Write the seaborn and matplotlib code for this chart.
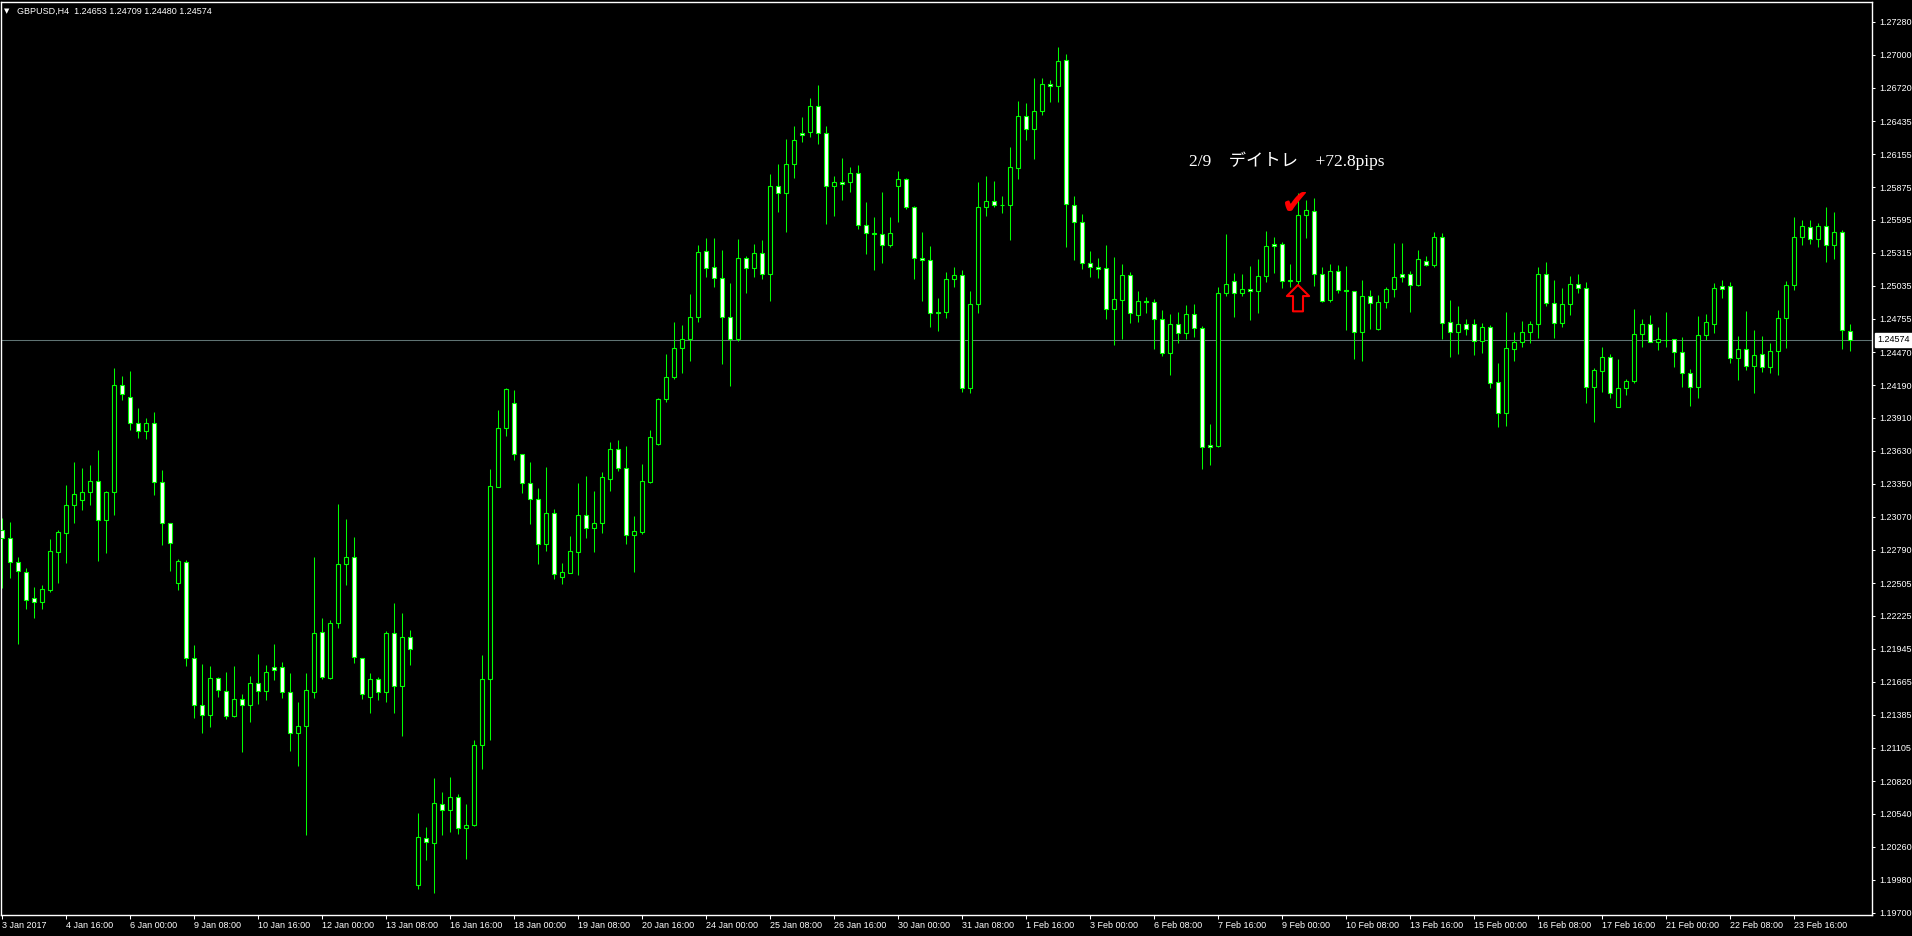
import numpy as np
import pandas as pd
import matplotlib
matplotlib.use("Agg")
import matplotlib.pyplot as plt
import seaborn as sns

# ---------------- data (GBPUSD H4) ----------------
opens = [1.22956, 1.22888, 1.22684, 1.22599, 1.22378, 1.22344, 1.22446, 1.22769, 1.22931, 1.23169,
         1.23212, 1.23280, 1.23373, 1.23042, 1.23280, 1.24191, 1.24088, 1.23867, 1.23799, 1.23867,
         1.23365, 1.23016, 1.22505, 1.22684, 1.21867, 1.21467, 1.21382, 1.21697, 1.21586, 1.21373,
         1.21518, 1.21467, 1.21654, 1.21586, 1.21790, 1.21790, 1.21578, 1.21229, 1.21288, 1.21578,
         1.22088, 1.21697, 1.22165, 1.22667, 1.22727, 1.21867, 1.21535, 1.21688, 1.21578, 1.22080,
         1.21629, 1.22046, 1.19935, 1.20335, 1.20292, 1.20624, 1.20573, 1.20684, 1.20420, 1.20446,
         1.21127, 1.21688, 1.23322, 1.23825, 1.24037, 1.23603, 1.23356, 1.23220, 1.22837, 1.23101,
         1.22556, 1.22590, 1.22769, 1.23084, 1.22973, 1.23016, 1.23390, 1.23646, 1.23484, 1.22914,
         1.22939, 1.23365, 1.23688, 1.24071, 1.24259, 1.24505, 1.24582, 1.24769, 1.25331, 1.25195,
         1.25101, 1.24769, 1.24582, 1.25271, 1.25186, 1.25314, 1.25135, 1.25884, 1.25825, 1.26071,
         1.26335, 1.26344, 1.26565, 1.26335, 1.25884, 1.25918, 1.25918, 1.25995, 1.25552, 1.25484,
         1.25476, 1.25382, 1.25884, 1.25944, 1.25705, 1.25271, 1.25254, 1.24812, 1.24812, 1.25093,
         1.25127, 1.24165, 1.24880, 1.25705, 1.25756, 1.25722, 1.25722, 1.26037, 1.26480, 1.26369,
         1.26523, 1.26752, 1.26735, 1.26957, 1.25722, 1.25578, 1.25229, 1.25195, 1.25186, 1.24837,
         1.24914, 1.25127, 1.24786, 1.24905, 1.24897, 1.24752, 1.24463, 1.24710, 1.24633, 1.24795,
         1.24676, 1.23680, 1.23671, 1.24974, 1.25076, 1.24974, 1.25008, 1.24991, 1.25118, 1.25391,
         1.25391, 1.25076, 1.25076, 1.25637, 1.25671, 1.25135, 1.24914, 1.25161, 1.24999, 1.24991,
         1.24642, 1.24948, 1.24667, 1.24897, 1.25008, 1.25135, 1.25135, 1.25042, 1.25246, 1.25212,
         1.25450, 1.24727, 1.24642, 1.24710, 1.24710, 1.24565, 1.24684, 1.24216, 1.23952, 1.24497,
         1.24556, 1.24642, 1.24710, 1.25135, 1.24888, 1.24718, 1.24880, 1.25050, 1.25016, 1.24173,
         1.24310, 1.24429, 1.24003, 1.24165, 1.24225, 1.24625, 1.24710, 1.24556, 1.24573, 1.24582,
         1.24471, 1.24293, 1.24173, 1.24616, 1.24710, 1.25033, 1.25033, 1.24420, 1.24497, 1.24352,
         1.24454, 1.24344, 1.24480, 1.24761, 1.25042, 1.25450, 1.25535, 1.25433, 1.25544, 1.25382,
         1.25493, 1.24653]
highs = [1.23059, 1.23025, 1.22727, 1.22633, 1.22471, 1.22488, 1.22880, 1.22956, 1.23339, 1.23535,
         1.23484, 1.23510, 1.23637, 1.23288, 1.24335, 1.24267, 1.24310, 1.23995, 1.23910, 1.23961,
         1.23467, 1.23016, 1.22710, 1.22701, 1.21978, 1.21816, 1.21799, 1.21705, 1.21748, 1.21799,
         1.21561, 1.21714, 1.21901, 1.21807, 1.21986, 1.21833, 1.21739, 1.21492, 1.21739, 1.22727,
         1.22207, 1.22190, 1.23178, 1.23050, 1.22897, 1.21867, 1.21739, 1.21705, 1.22097, 1.22335,
         1.22250, 1.22105, 1.20548, 1.20429, 1.20846, 1.20727, 1.20854, 1.20710, 1.20624, 1.21169,
         1.21892, 1.23476, 1.23978, 1.24165, 1.24148, 1.23603, 1.23535, 1.23314, 1.23493, 1.23135,
         1.22676, 1.22905, 1.23356, 1.23416, 1.23288, 1.23450, 1.23705, 1.23722, 1.23671, 1.23076,
         1.23518, 1.23807, 1.24080, 1.24454, 1.24727, 1.24701, 1.24965, 1.25382, 1.25442, 1.25442,
         1.25339, 1.25059, 1.25433, 1.25288, 1.25391, 1.25425, 1.25986, 1.26071, 1.26284, 1.26395,
         1.26471, 1.26633, 1.26744, 1.26395, 1.25969, 1.26122, 1.26046, 1.26063, 1.25748, 1.25620,
         1.25833, 1.25620, 1.26012, 1.25952, 1.25714, 1.25493, 1.25374, 1.24931, 1.25152, 1.25195,
         1.25169, 1.24991, 1.25918, 1.25969, 1.25927, 1.25799, 1.26216, 1.26608, 1.26591, 1.26803,
         1.26803, 1.26786, 1.27067, 1.27008, 1.25799, 1.25646, 1.25331, 1.25271, 1.25382, 1.25280,
         1.25220, 1.25152, 1.24991, 1.24939, 1.24922, 1.24829, 1.24795, 1.24812, 1.24871, 1.24880,
         1.24693, 1.23859, 1.25025, 1.25476, 1.25144, 1.25135, 1.25203, 1.25263, 1.25501, 1.25450,
         1.25408, 1.25220, 1.25825, 1.25765, 1.25782, 1.25195, 1.25220, 1.25212, 1.25203, 1.24991,
         1.25084, 1.24999, 1.24956, 1.25025, 1.25399, 1.25399, 1.25161, 1.25339, 1.25288, 1.25493,
         1.25484, 1.24914, 1.24863, 1.24752, 1.24752, 1.24718, 1.24701, 1.24378, 1.24812, 1.24642,
         1.24735, 1.24735, 1.25195, 1.25237, 1.25084, 1.25016, 1.25118, 1.25135, 1.25067, 1.24335,
         1.24514, 1.24454, 1.24412, 1.24242, 1.24837, 1.24752, 1.24786, 1.24684, 1.24812, 1.24582,
         1.24599, 1.24327, 1.24778, 1.24795, 1.25059, 1.25084, 1.25067, 1.24608, 1.24820, 1.24659,
         1.24608, 1.24548, 1.24829, 1.25076, 1.25620, 1.25595, 1.25595, 1.25569, 1.25705, 1.25663,
         1.25510, 1.24709]
lows = [1.22463, 1.22548, 1.21986, 1.22284, 1.22207, 1.22284, 1.22429, 1.22505, 1.22676, 1.23016,
        1.23127, 1.23169, 1.22693, 1.22761, 1.23084, 1.24063, 1.23807, 1.23739, 1.23731, 1.23254,
        1.22829, 1.22607, 1.22446, 1.21799, 1.21356, 1.21229, 1.21280, 1.21535, 1.21348, 1.21365,
        1.21067, 1.21322, 1.21476, 1.21510, 1.21680, 1.21527, 1.21075, 1.20948, 1.20360, 1.21527,
        1.21688, 1.21688, 1.22122, 1.22488, 1.21824, 1.21518, 1.21399, 1.21510, 1.21492, 1.21399,
        1.21203, 1.21807, 1.19901, 1.20148, 1.19867, 1.20360, 1.20386, 1.20369, 1.20156, 1.20437,
        1.20922, 1.21169, 1.23322, 1.23756, 1.23552, 1.23271, 1.23007, 1.22667, 1.22778, 1.22539,
        1.22497, 1.22590, 1.22573, 1.22888, 1.22769, 1.22931, 1.23288, 1.23459, 1.22837, 1.22599,
        1.22922, 1.23356, 1.23680, 1.24046, 1.24242, 1.24293, 1.24395, 1.24727, 1.25110, 1.25025,
        1.24369, 1.24182, 1.24565, 1.24974, 1.25110, 1.25093, 1.24905, 1.25663, 1.25493, 1.25952,
        1.26259, 1.26301, 1.26242, 1.25561, 1.25629, 1.25765, 1.25833, 1.25518, 1.25305, 1.25169,
        1.25229, 1.25365, 1.25578, 1.25688, 1.25093, 1.24905, 1.24684, 1.24650, 1.24761, 1.25025,
        1.24131, 1.24122, 1.24803, 1.25629, 1.25705, 1.25654, 1.25425, 1.25944, 1.26276, 1.26114,
        1.26488, 1.26599, 1.26599, 1.25365, 1.25254, 1.25178, 1.25110, 1.25101, 1.24752, 1.24531,
        1.24582, 1.24718, 1.24727, 1.24803, 1.24497, 1.24437, 1.24276, 1.24548, 1.24582, 1.24599,
        1.23476, 1.23510, 1.23663, 1.24948, 1.24769, 1.24948, 1.24744, 1.24803, 1.25067, 1.25144,
        1.25016, 1.25025, 1.25042, 1.25442, 1.25033, 1.24897, 1.24897, 1.24974, 1.24659, 1.24412,
        1.24395, 1.24667, 1.24659, 1.24846, 1.24939, 1.25067, 1.24812, 1.25033, 1.25203, 1.25195,
        1.24582, 1.24429, 1.24454, 1.24616, 1.24446, 1.24463, 1.24165, 1.23833, 1.23842, 1.24395,
        1.24514, 1.24548, 1.24591, 1.24863, 1.24591, 1.24684, 1.24786, 1.24974, 1.24037, 1.23876,
        1.24131, 1.24080, 1.24003, 1.24105, 1.24208, 1.24514, 1.24556, 1.24488, 1.24514, 1.24344,
        1.24173, 1.24012, 1.24080, 1.24573, 1.24633, 1.24931, 1.24378, 1.24233, 1.24318, 1.24122,
        1.24301, 1.24293, 1.24276, 1.24505, 1.24999, 1.25382, 1.25391, 1.25365, 1.25237, 1.25263,
        1.24497, 1.24480]
closes = [1.22888, 1.22684, 1.22607, 1.22361, 1.22344, 1.22454, 1.22778, 1.22939, 1.23169, 1.23263,
          1.23280, 1.23373, 1.23042, 1.23280, 1.24191, 1.24114, 1.23867, 1.23799, 1.23867, 1.23365,
          1.23016, 1.22846, 1.22693, 1.21867, 1.21467, 1.21382, 1.21697, 1.21595, 1.21373, 1.21518,
          1.21467, 1.21654, 1.21586, 1.21748, 1.21765, 1.21578, 1.21229, 1.21288, 1.21595, 1.22080,
          1.21705, 1.22165, 1.22667, 1.22727, 1.21876, 1.21561, 1.21688, 1.21578, 1.22080, 1.21629,
          1.22046, 1.21944, 1.20344, 1.20301, 1.20633, 1.20573, 1.20684, 1.20420, 1.20446, 1.21127,
          1.21688, 1.23331, 1.23825, 1.24156, 1.23603, 1.23356, 1.23220, 1.22837, 1.23101, 1.22582,
          1.22599, 1.22778, 1.23084, 1.22973, 1.23016, 1.23408, 1.23646, 1.23484, 1.22914, 1.22948,
          1.23373, 1.23748, 1.24071, 1.24259, 1.24505, 1.24582, 1.24769, 1.25322, 1.25186, 1.25101,
          1.24769, 1.24582, 1.25271, 1.25186, 1.25314, 1.25135, 1.25884, 1.25825, 1.26071, 1.26276,
          1.26318, 1.26565, 1.26335, 1.25884, 1.25918, 1.25901, 1.25995, 1.25552, 1.25484, 1.25476,
          1.25382, 1.25484, 1.25944, 1.25705, 1.25271, 1.25254, 1.24803, 1.24803, 1.25093, 1.25127,
          1.24165, 1.24880, 1.25705, 1.25756, 1.25722, 1.25720, 1.26046, 1.26480, 1.26369, 1.26523,
          1.26752, 1.26735, 1.26948, 1.25731, 1.25578, 1.25229, 1.25195, 1.25178, 1.24837, 1.24922,
          1.25127, 1.24803, 1.24905, 1.24897, 1.24752, 1.24463, 1.24710, 1.24633, 1.24795, 1.24676,
          1.23663, 1.23663, 1.24974, 1.25050, 1.24974, 1.25008, 1.24991, 1.25118, 1.25374, 1.25374,
          1.25076, 1.25084, 1.25637, 1.25680, 1.25135, 1.24905, 1.25161, 1.24999, 1.24991, 1.24642,
          1.24948, 1.24888, 1.24897, 1.25008, 1.25110, 1.25110, 1.25042, 1.25263, 1.25212, 1.25450,
          1.24718, 1.24642, 1.24710, 1.24667, 1.24565, 1.24684, 1.24208, 1.23952, 1.24505, 1.24556,
          1.24642, 1.24710, 1.25135, 1.24888, 1.24718, 1.24880, 1.25050, 1.25016, 1.24173, 1.24318,
          1.24429, 1.24122, 1.24165, 1.24225, 1.24625, 1.24710, 1.24556, 1.24582, 1.24575, 1.24471,
          1.24293, 1.24173, 1.24616, 1.24727, 1.25016, 1.25008, 1.24420, 1.24497, 1.24352, 1.24446,
          1.24344, 1.24480, 1.24761, 1.25042, 1.25450, 1.25544, 1.25433, 1.25544, 1.25382, 1.25493,
          1.24659, 1.24574]

date_labels = ["3 Jan 2017", "4 Jan 16:00", "6 Jan 00:00", "9 Jan 08:00", "10 Jan 16:00",
               "12 Jan 00:00", "13 Jan 08:00", "16 Jan 16:00", "18 Jan 00:00", "19 Jan 08:00",
               "20 Jan 16:00", "24 Jan 00:00", "25 Jan 08:00", "26 Jan 16:00", "30 Jan 00:00",
               "31 Jan 08:00", "1 Feb 16:00", "3 Feb 00:00", "6 Feb 08:00", "7 Feb 16:00",
               "9 Feb 00:00", "10 Feb 08:00", "13 Feb 16:00", "15 Feb 00:00", "16 Feb 08:00",
               "17 Feb 16:00", "21 Feb 00:00", "22 Feb 08:00", "23 Feb 16:00"]
bars_per_label = 8

ytick_values = [1.27280, 1.27000, 1.26720, 1.26435, 1.26155, 1.25875, 1.25595, 1.25315, 1.25035,
                1.24755, 1.24470, 1.24190, 1.23910, 1.23630, 1.23350, 1.23070, 1.22790, 1.22505,
                1.22225, 1.21945, 1.21665, 1.21385, 1.21105, 1.20820, 1.20540, 1.20260, 1.19980,
                1.19700]
ytick_labels = ["%.5f" % v for v in ytick_values]

title_text = "GBPUSD,H4  1.24653 1.24709 1.24480 1.24574"
last_price = 1.24574
note_text = "2/9\u3000デイトレ\u3000+72.8pips"
entry_bar = 162

# ---------------- style ----------------
sns.set_theme(style="dark", rc={"axes.facecolor": "black", "figure.facecolor": "black",
                                "axes.grid": False, "axes.edgecolor": "white"})
plt.rcParams['font.family'] = ['Liberation Sans', 'DejaVu Sans']

df = pd.DataFrame({"o": opens, "h": highs, "l": lows, "c": closes})
df["x"] = np.arange(len(df))
df["bull"] = df["c"] > df["o"]
df["bottom"] = df[["o", "c"]].min(axis=1)
df["height"] = (df["c"] - df["o"]).abs()

W, H = 1912, 936
fig = plt.figure(figsize=(W / 100, H / 100), dpi=100)
fig.patch.set_facecolor("black")
ax = fig.add_axes([1 / W, 21 / H, 1871 / W, 913 / H])
ax.set_facecolor("black")

green = "#00ff00"
ax.axhline(last_price, color="#5f7373", lw=0.75, zorder=1)
ax.vlines(df["x"], df["l"], df["h"], color=green, linewidth=0.75, zorder=2)
ax.bar(df["x"], df["height"], bottom=df["bottom"], width=0.5,
       color=np.where(df["bull"], "black", "white"), edgecolor=green,
       linewidth=0.8, zorder=3)

ax.set_xlim(-0.125, 233.75)
ax.set_ylim(1.19680, 1.27450)

# right price axis
ax.yaxis.tick_right()
ax.set_yticks(ytick_values, ytick_labels)
ax.tick_params(axis="y", which="both", colors="white", length=2.5, width=0.75,
               pad=2.5, labelsize=6.5, left=False, right=True, direction="out")
# bottom time axis
ax.set_xticks(np.arange(len(date_labels)) * bars_per_label, date_labels)
ax.tick_params(axis="x", colors="white", length=3, width=0.75, pad=1.5,
               labelsize=6.5, bottom=True, direction="out")
for lbl in ax.get_xticklabels():
    lbl.set_horizontalalignment("left")

for sp in ax.spines.values():
    sp.set_color("white")
    sp.set_linewidth(1.0)
    sp.set_visible(True)

# current price box
ax.annotate("%.5f" % last_price, xy=(1, last_price), xycoords=("axes fraction", "data"),
            xytext=(3.5, 0), textcoords="offset points", ha="left", va="center",
            fontsize=6.5, color="black", annotation_clip=False, zorder=10,
            bbox=dict(boxstyle="square,pad=0.25", fc="white", ec="white"))

# title
fig.text(4 / W, 1 - 11.5 / H, "\u25bc", color="white", fontsize=5, va="center",
         ha="left", family=["DejaVu Sans"])
fig.text(17 / W, 1 - 11.5 / H, title_text, color="white", fontsize=6.5,
         va="center", ha="left")

# trade note
ax.text(148.4, 1.26097, note_text, color="white", fontsize=12.5, va="center", ha="left",
        family=["Liberation Serif", "Noto Sans CJK JP"], zorder=6)
ax.text(161.7, 1.25735, "\u2714", color="red", fontsize=25, ha="center", va="center",
        family=["DejaVu Sans"], zorder=6)
ax.annotate("", xy=(entry_bar, df["l"][entry_bar]), xycoords="data",
            xytext=(0, -19), textcoords="offset points",
            arrowprops=dict(arrowstyle="simple,head_length=0.5,head_width=1.0,tail_width=0.45",
                            fc="black", ec="red", lw=1.5, shrinkA=0, shrinkB=0,
                            mutation_scale=16), zorder=7)

fig.savefig("out.png", dpi=100, facecolor="black")
